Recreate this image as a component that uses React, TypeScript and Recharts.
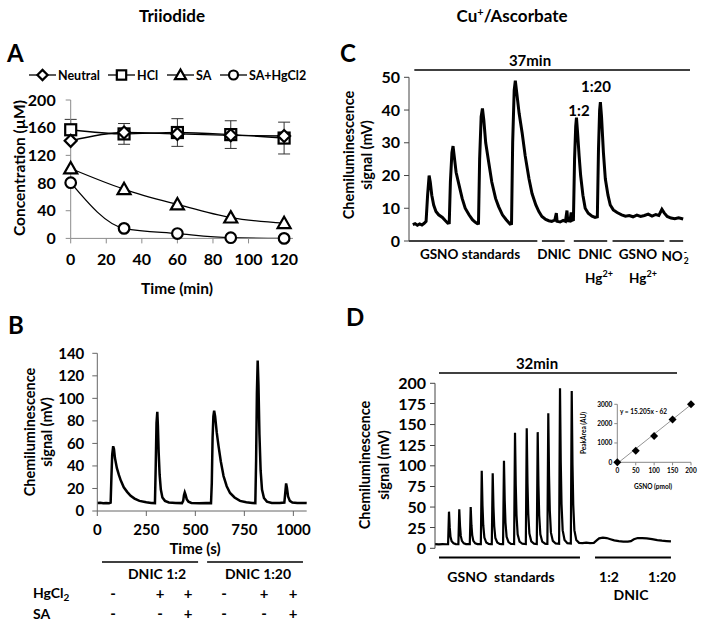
import React from 'react';
import { LineChart, Line, XAxis, YAxis, ErrorBar, ReferenceLine } from 'recharts';

const W = 704;
const H = 626;

// ---- Panel A: triiodide, concentration vs time
const timeA = [0, 30, 60, 90, 120];
const neutralA = [141, 153, 151, 149, 148];
const hclA = [157, 151, 153, 150, 145];
const hclErrA = [15, 15, 20, 20, 23];
const saA = [101, 71, 49, 30, 22];
const saHgA = [80.5, 14.5, 7, 1, 0];

// ---- Panel B: DNIC traces, time (s) vs mV
const traceB: [number, number][] = [
  [0, 7], [15, 7.3], [30, 6.8], [45, 7.1], [60, 6.9], [68, 7.4], [72, 30], [76, 50], [81, 57.5], [85, 55],
  [90, 47], [100, 38], [110, 32], [120, 27], [135, 21], [152, 17], [170, 13.5], [190, 11], [215, 9], [250, 7.8],
  [275, 7.2], [294, 7], [298, 40], [302, 78], [306, 88], [309, 76], [313, 52], [318, 32], [324, 19], [332, 12],
  [345, 9], [365, 7.6], [400, 7.1], [432, 7], [438, 9], [442, 14], [446, 16.5], [450, 14.5], [456, 10.5], [465, 8.2],
  [480, 7.2], [520, 6.9], [555, 7.1], [580, 7], [584, 25], [588, 65], [592, 84], [596, 89], [601, 84], [609, 70],
  [618, 58], [630, 44], [644, 31], [660, 22], [677, 16], [700, 12], [728, 9], [760, 7.8], [790, 7.2], [806, 7],
  [810, 45], [814, 105], [818, 133.5], [822, 112], [827, 68], [833, 36], [840, 19], [850, 11.5], [865, 8.3], [890, 7.2],
  [930, 7], [954, 7.5], [958, 15], [963, 24.5], [967, 21], [973, 13], [982, 9], [995, 7.6], [1020, 7.1], [1045, 7.2],
  [1068, 7],
];
const ticksB = [0, 250, 500, 750, 1000];
const signX = [113, 160, 188, 224, 264, 293];
const hgSigns = ['-', '+', '+', '-', '+', '+'];
const saSigns = ['-', '-', '+', '-', '-', '+'];

// ---- Panel C: Cu+/ascorbate trace, minutes vs mV
const traceC: [number, number][] = [
  [0.5, 5.0], [0.8, 5.3], [1.1, 4.8], [1.4, 5.2], [1.7, 4.9], [2.0, 5.4], [2.25, 6], [2.45, 14], [2.65, 20], [2.8, 18],
  [3.0, 14], [3.25, 11], [3.55, 9], [3.9, 8], [4.4, 7.2], [4.8, 6.2], [5.1, 5.5], [5.3, 5.6], [5.45, 18], [5.65, 27],
  [5.8, 29], [5.95, 26], [6.2, 21], [6.6, 17], [7.0, 13], [7.4, 10], [7.9, 8], [8.35, 6.5], [8.7, 5.8], [9.0, 5.3],
  [9.15, 5.4], [9.3, 25], [9.5, 38], [9.67, 40.5], [9.85, 37], [10.1, 30], [10.5, 24], [10.9, 18], [11.4, 13], [11.8, 10.5],
  [12.3, 8], [12.8, 6.5], [13.3, 5.2], [13.5, 5.3], [13.65, 30], [13.85, 46], [14.0, 49], [14.2, 45], [14.5, 39], [14.9, 33],
  [15.3, 26], [15.8, 19], [16.2, 14.5], [16.7, 11], [17.1, 9], [17.5, 7.5], [18.0, 6.6], [18.4, 6.2], [18.8, 6.0], [19.2, 6.4],
  [19.4, 8.5], [19.5, 6], [19.9, 5.8], [20.3, 6.3], [20.6, 6], [20.8, 9.3], [20.9, 6.2], [21.2, 6.1], [21.35, 8.7], [21.45, 6.3],
  [21.65, 6.5], [21.8, 25], [21.95, 35], [22.05, 37.7], [22.2, 33], [22.4, 26], [22.6, 20], [22.9, 14], [23.2, 10], [23.6, 8.5],
  [24.1, 7.6], [24.5, 7.2], [24.8, 7.4], [24.95, 28], [25.1, 40], [25.2, 42.4], [25.35, 38], [25.6, 27], [25.85, 19], [26.2, 14],
  [26.5, 11], [26.9, 9.5], [27.4, 8.7], [28.0, 8.0], [28.5, 7.6], [29.0, 7.8], [29.5, 7.4], [30.0, 7.9], [30.5, 7.5], [31.0, 7.8],
  [31.5, 8.2], [32.0, 7.6], [32.5, 8.1], [32.9, 7.8], [33.3, 9.7], [33.6, 8.6], [34.0, 7.5], [34.5, 7.0], [35.0, 6.8], [35.5, 7.1],
  [36.1, 6.7],
];
// x-axis pieces under the C trace (minutes)
const segmentsC: [number, number][] = [[0, 16.9], [17.5, 20.5], [21.7, 26.1], [26.8, 33.6], [34.3, 36.1]];

// ---- Panel D: GSNO standards + DNIC, minutes vs mV
const traceD: [number, number][] = [
  [0, 5], [0.5, 4.8], [1.0, 5.1], [1.5, 4.9], [1.73, 5], [1.85, 44.4], [1.95, 25], [2.05, 14], [2.2, 8.5], [2.45, 6], [2.75, 5.1], [3.0, 4.9],
  [3.09, 5], [3.21, 47.3], [3.31, 27], [3.41, 15], [3.56, 9], [3.81, 6], [4.1, 5.1], [4.4, 5],
  [4.6, 5], [4.72, 50], [4.82, 28], [4.92, 16], [5.07, 9], [5.32, 6], [5.62, 5.1], [5.9, 5],
  [6.06, 5], [6.18, 94], [6.28, 52], [6.38, 28], [6.53, 13], [6.78, 7], [7.1, 5.3], [7.35, 5.1],
  [7.51, 5], [7.63, 91], [7.73, 50], [7.83, 27], [7.98, 12.5], [8.23, 7], [8.55, 5.3], [8.8, 5.1],
  [9.0, 5], [9.12, 106], [9.22, 58], [9.32, 31], [9.47, 14], [9.72, 7.5], [10.05, 5.4], [10.3, 5.2],
  [10.46, 5.1], [10.58, 140], [10.68, 76], [10.78, 40], [10.93, 17], [11.18, 8], [11.55, 5.5], [11.8, 5.3],
  [12.01, 5.2], [12.13, 145.6], [12.23, 79], [12.33, 42], [12.48, 18], [12.73, 8.5], [13.1, 5.5], [13.3, 5.3],
  [13.46, 5.2], [13.58, 140.8], [13.68, 76], [13.78, 40], [13.93, 17], [14.18, 8], [14.55, 5.6], [14.7, 5.4],
  [14.86, 5.3], [14.98, 163.8], [15.08, 88], [15.18, 46], [15.33, 19], [15.58, 9], [15.95, 5.8], [16.25, 5.6],
  [16.41, 5.5], [16.53, 194], [16.63, 104], [16.73, 54], [16.88, 22], [17.13, 10], [17.5, 6.2], [17.8, 6],
  [17.96, 5.8], [18.08, 190.8], [18.18, 102], [18.28, 53], [18.43, 22], [18.68, 10], [19.05, 6.6], [19.5, 6.3],
  [20.0, 6.8], [20.5, 6.2], [21.0, 6.6], [21.3, 9], [21.7, 12], [22.2, 12.9], [22.7, 12.4], [23.2, 11], [23.7, 9.6],
  [24.3, 8.6], [24.9, 8.2], [25.5, 8], [25.9, 8.7], [26.3, 11], [26.8, 12.5], [27.4, 12.4], [28.0, 12], [28.7, 11.2],
  [29.4, 10], [30.0, 9.3], [30.6, 8.8], [31.2, 8.4],
];
const ticksDEven = [0, 50, 100, 150, 200];
const ticksDOdd = [25, 75, 125, 175];

// ---- Inset: calibration
const gsnoPmol = [0, 50, 100, 150, 200];
const peakArea = [0, 600, 1360, 2220, 3000];
const trendX = [4, 200];
const trendY = [0, 2979];

const toRows = (pts: [number, number][]) => pts.map(([t, v]) => ({ t, v }));

const rowsA = timeA.map((t, i) => ({
  t,
  neutral: neutralA[i],
  hcl: hclA[i],
  hclErr: hclErrA[i],
  sa: saA[i],
  hg: saHgA[i],
}));
const rowsD = toRows(traceD);
const rowsInset = gsnoPmol.map((t, i) => ({ t, v: peakArea[i] }));
const rowsTrend = trendX.map((t, i) => ({ t, v: trendY[i] }));

// chart covers the whole page; margins put the plot rect where we want it
function place(l: number, t: number, r: number, b: number, yw: number, xh: number) {
  return { left: l - yw, top: t, right: W - r, bottom: H - b - xh };
}

// D plot rectangle (also used for the in-between tick labels recharts keeps thinning out)
const D_LEFT = 435;
const D_TOP = 383.3;
const D_BOTTOM = 548.3;
const D_MAX = 200;
const yOfD = (v: number) => D_BOTTOM - (v / D_MAX) * (D_BOTTOM - D_TOP);

const full: React.CSSProperties = { position: 'absolute', left: 0, top: 0 };

function Txt({
  x, y, s = 15, rot = false, start = false, children,
}: { x: number; y: number; s?: number; rot?: boolean; start?: boolean; children: React.ReactNode }) {
  const tr = `translate(${start ? '0' : '-50%'}, -50%)${rot ? ' rotate(-90deg)' : ''}`;
  return (
    <div
      style={{
        position: 'absolute', left: x, top: y, fontSize: s, fontWeight: 700, lineHeight: 1,
        whiteSpace: 'nowrap', transform: tr,
      }}
    >
      {children}
    </div>
  );
}

type Kind = 'diamond' | 'square' | 'triangle' | 'circle';

function Mark({ kind, cx, cy, k = 1 }: { kind: Kind; cx: number; cy: number; k?: number }) {
  const p = { fill: '#fff', stroke: '#000', strokeWidth: 2.2 };
  if (kind === 'diamond') {
    const d = 6 * k;
    return <path d={`M${cx},${cy - d}L${cx + d},${cy}L${cx},${cy + d}L${cx - d},${cy}Z`} {...p} />;
  }
  if (kind === 'square') {
    const d = 5.5 * k;
    return <rect x={cx - d} y={cy - d} width={2 * d} height={2 * d} {...p} />;
  }
  if (kind === 'triangle') {
    const d = 6.5 * k;
    return <path d={`M${cx},${cy - d}L${cx + d},${cy + d * 0.75}L${cx - d},${cy + d * 0.75}Z`} {...p} />;
  }
  return <circle cx={cx} cy={cy} r={5.3 * k} {...p} />;
}

const dotOf = (kind: Kind) => (props: any) => {
  const { cx, cy, index } = props;
  if (cx == null || cy == null) return <g key={`n-${index}`} />;
  return <Mark key={`${kind}-${index}`} kind={kind} cx={cx} cy={cy} />;
};

const diamondDot = (props: any) => {
  const { cx, cy, index } = props;
  if (cx == null || cy == null) return <g key={`n-${index}`} />;
  return (
    <path key={`d-${index}`} d={`M${cx},${cy - 4}L${cx + 4},${cy}L${cx},${cy + 4}L${cx - 4},${cy}Z`} fill="#000" />
  );
};

const legendA: { kind: Kind; label: string; x: number }[] = [
  { kind: 'diamond', label: 'Neutral', x: 29 },
  { kind: 'square', label: 'HCl', x: 108 },
  { kind: 'triangle', label: 'SA', x: 167 },
  { kind: 'circle', label: 'SA+HgCl2', x: 220 },
];

const tickBold = (s: number) => ({ fontSize: s, fill: '#000', fontWeight: 700 });
const seg = (x1: number, x2: number, y: number) => [{ x: x1, y }, { x: x2, y }] as any;

export default function App() {
  return (
    <div
      style={{
        position: 'absolute', left: 0, top: 0, width: W, height: H, background: '#fff',
        fontFamily: 'Lato, "Open Sans", sans-serif', color: '#000', overflow: 'hidden',
      }}
    >
      {/* Panel A */}
      <div style={full}>
        <LineChart width={W} height={H} data={rowsA} margin={place(70.7, 100, 293, 238.4, 60, 40)}>
          <XAxis
            type="number" dataKey="t" domain={[0, 125]} ticks={[0, 20, 40, 60, 80, 100, 120]} interval={0}
            height={40} tickSize={5} tickMargin={10} stroke="#8c8c8c" tick={tickBold(16)}
          />
          <YAxis
            type="number" domain={[0, 200]} ticks={[0, 40, 80, 120, 160, 200]} interval={0}
            width={60} tickSize={5} tickMargin={10} stroke="#8c8c8c" tick={tickBold(16)}
          />
          <Line type="monotone" dataKey="hcl" stroke="#000" strokeWidth={1.3} dot={dotOf('square')} isAnimationActive={false}>
            <ErrorBar dataKey="hclErr" width={6} stroke="#333" strokeWidth={1} />
          </Line>
          <Line type="monotone" dataKey="neutral" stroke="#000" strokeWidth={1.3} dot={dotOf('diamond')} isAnimationActive={false} />
          <Line type="monotone" dataKey="sa" stroke="#000" strokeWidth={1.3} dot={dotOf('triangle')} isAnimationActive={false} />
          <Line type="monotone" dataKey="hg" stroke="#000" strokeWidth={1.3} dot={dotOf('circle')} isAnimationActive={false} />
        </LineChart>
      </div>

      {/* Panel B */}
      <div style={full}>
        <LineChart width={W} height={H} margin={place(97.3, 353.3, 306.7, 511, 60, 30)}>
          <XAxis
            type="number" dataKey="t" domain={[0, 1068]} ticks={ticksB} interval={0}
            height={30} tickSize={5} tickMargin={8} stroke="#666" tick={tickBold(15)}
          />
          <YAxis
            type="number" domain={[0, 140]} ticks={[0, 20, 40, 60, 80, 100, 120, 140]} interval={0}
            width={60} tickSize={5} tickMargin={8} stroke="#666" tick={tickBold(15)}
          />
          <Line data={toRows(traceB)} dataKey="v" type="linear" stroke="#000" strokeWidth={2.5} dot={false} isAnimationActive={false} />
          <ReferenceLine segment={seg(24, 514, -45.3)} stroke="#000" strokeWidth={1.5} ifOverflow="visible" />
          <ReferenceLine segment={seg(560, 1049, -45.3)} stroke="#000" strokeWidth={1.5} ifOverflow="visible" />
        </LineChart>
      </div>

      {/* Panel C */}
      <div style={full}>
        <LineChart width={W} height={H} margin={place(409, 77.3, 690, 241, 50, 0)}>
          <XAxis type="number" dataKey="t" domain={[0, 37]} hide />
          <YAxis
            type="number" domain={[0, 50]} ticks={[0, 10, 20, 30, 40, 50]} interval={0}
            width={50} tickSize={5} tickMargin={4} stroke="#444" tick={tickBold(16)}
          />
          <Line data={toRows(traceC)} dataKey="v" type="linear" stroke="#000" strokeWidth={3} dot={false} isAnimationActive={false} />
          {segmentsC.map(([a, b]) => (
            <ReferenceLine key={a} segment={seg(a, b, 0)} stroke="#000" strokeWidth={1.5} ifOverflow="visible" />
          ))}
          <ReferenceLine segment={seg(0.7, 37, 52.2)} stroke="#000" strokeWidth={1.5} ifOverflow="visible" />
        </LineChart>
      </div>

      {/* Panel D */}
      <div style={full}>
        <LineChart width={W} height={H} margin={place(D_LEFT, D_TOP, 677, D_BOTTOM, 50, 0)}>
          <XAxis type="number" dataKey="t" domain={[0, 32]} hide />
          <YAxis
            type="number" domain={[0, D_MAX]} ticks={ticksDEven} interval={0}
            width={50} tickSize={5} tickMargin={4} stroke="#444" tick={tickBold(16)}
          />
          <Line data={rowsD} dataKey="v" type="linear" stroke="#000" strokeWidth={2.2} dot={false} isAnimationActive={false} />
          <ReferenceLine segment={seg(0.53, 19.17, -11)} stroke="#000" strokeWidth={2} ifOverflow="visible" />
          <ReferenceLine segment={seg(21.16, 31.2, -11)} stroke="#000" strokeWidth={2} ifOverflow="visible" />
          <ReferenceLine segment={seg(0.53, 32, 212.5)} stroke="#000" strokeWidth={1.5} ifOverflow="visible" />
        </LineChart>
      </div>
      {ticksDOdd.map((v) => (
        <React.Fragment key={`odd${v}`}>
          <div
            style={{
              position: 'absolute', left: D_LEFT - 9, top: yOfD(v), transform: 'translate(-100%, -50%)',
              fontSize: 16, fontWeight: 700, lineHeight: 1, whiteSpace: 'nowrap',
            }}
          >
            {v}
          </div>
          <div style={{ position: 'absolute', left: D_LEFT - 5, top: yOfD(v) - 0.5, width: 5, height: 1, background: '#444' }} />
        </React.Fragment>
      ))}

      {/* Inset in D */}
      <div style={full}>
        <LineChart width={W} height={H} margin={place(617.3, 404.3, 691, 462.3, 30, 15)}>
          <XAxis
            type="number" dataKey="t" domain={[0, 200]} ticks={[0, 50, 100, 150, 200]} interval={0}
            height={15} tickSize={3} tickMargin={3} stroke="#888" tick={tickBold(6.5)}
          />
          <YAxis
            type="number" domain={[0, 3000]} ticks={[0, 1000, 2000, 3000]} interval={0}
            width={30} tickSize={3} tickMargin={2} stroke="#888" tick={tickBold(6.5)}
          />
          <Line data={rowsTrend} dataKey="v" type="linear" stroke="#777" strokeWidth={0.8} dot={false} isAnimationActive={false} />
          <Line data={rowsInset} dataKey="v" type="linear" stroke="none" dot={diamondDot} isAnimationActive={false} />
        </LineChart>
      </div>

      {/* titles and panel letters */}
      <Txt x={172} y={15} s={17}>Triiodide</Txt>
      <Txt x={512} y={15} s={17}>
        Cu<sup style={{ fontSize: 11 }}>+</sup>/Ascorbate
      </Txt>
      <Txt x={7} y={53} s={24} start>A</Txt>
      <Txt x={340} y={53} s={24} start>C</Txt>
      <Txt x={8} y={325} s={24} start>B</Txt>
      <Txt x={346} y={317} s={24} start>D</Txt>

      {/* A legend + axis titles */}
      {legendA.map((it) => (
        <div key={it.label} style={{ position: 'absolute', left: it.x, top: 67, height: 16, display: 'flex', alignItems: 'center' }}>
          <svg width={27} height={16}>
            <line x1={0} y1={8} x2={27} y2={8} stroke="#000" strokeWidth={1.3} />
            <Mark kind={it.kind} cx={13.5} cy={8} k={0.85} />
          </svg>
          <span style={{ fontSize: 12.5, fontWeight: 700, marginLeft: 2 }}>{it.label}</span>
        </div>
      ))}
      <Txt x={20} y={168} s={15.5} rot>Concentration (µM)</Txt>
      <Txt x={177} y={289} s={15.5}>Time (min)</Txt>

      {/* B labels */}
      <Txt x={30} y={432} s={14.5} rot>Chemiluminescence</Txt>
      <Txt x={47} y={432} s={14.5} rot>signal (mV)</Txt>
      <Txt x={195} y={548} s={15}>Time (s)</Txt>
      <Txt x={157} y={574} s={14}>DNIC 1:2</Txt>
      <Txt x={258} y={574} s={14}>DNIC 1:20</Txt>
      <Txt x={33} y={594} s={14} start>
        HgCl<sub style={{ fontSize: 10 }}>2</sub>
      </Txt>
      <Txt x={33} y={614} s={14} start>SA</Txt>
      {hgSigns.map((c, i) => (
        <Txt key={`h${i}`} x={signX[i]} y={593} s={15}>{c}</Txt>
      ))}
      {saSigns.map((c, i) => (
        <Txt key={`s${i}`} x={signX[i]} y={613} s={15}>{c}</Txt>
      ))}

      {/* C labels */}
      <Txt x={349} y={155} s={14.5} rot>Chemiluminescence</Txt>
      <Txt x={367} y={155} s={14.5} rot>signal (mV)</Txt>
      <Txt x={530} y={60} s={15}>37min</Txt>
      <Txt x={579} y={110} s={15}>1:2</Txt>
      <Txt x={596} y={86} s={15}>1:20</Txt>
      <Txt x={470} y={255} s={13.5}>GSNO standards</Txt>
      <Txt x={554} y={255} s={13.5}>DNIC</Txt>
      <Txt x={595} y={255} s={13.5}>DNIC</Txt>
      <Txt x={599} y={277} s={13.5}>
        Hg<sup style={{ fontSize: 9 }}>2+</sup>
      </Txt>
      <Txt x={638} y={255} s={13.5}>GSNO</Txt>
      <Txt x={643} y={277} s={13.5}>
        Hg<sup style={{ fontSize: 9 }}>2+</sup>
      </Txt>
      <Txt x={675} y={256} s={13.5}>
        <span style={{ display: 'inline-flex', alignItems: 'center' }}>
          NO
          <span style={{ display: 'inline-flex', flexDirection: 'column', fontSize: 8.5, lineHeight: 1, marginLeft: 1 }}>
            <span>-</span>
            <span>2</span>
          </span>
        </span>
      </Txt>

      {/* D labels */}
      <Txt x={365} y={465} s={14.5} rot>Chemiluminescence</Txt>
      <Txt x={384} y={465} s={14.5} rot>signal (mV)</Txt>
      <Txt x={537} y={363} s={15}>32min</Txt>
      <Txt x={501} y={577} s={14}>GSNO&nbsp;&nbsp;standards</Txt>
      <Txt x={609} y={577} s={14}>1:2</Txt>
      <Txt x={662} y={577} s={14}>1:20</Txt>
      <Txt x={631} y={595} s={14}>DNIC</Txt>

      {/* inset labels */}
      <Txt x={584} y={433} s={6.5} rot>PeakArea (AU)</Txt>
      <Txt x={653} y={487} s={6.5}>GSNO (pmol)</Txt>
      <Txt x={620} y={412} s={6.5} start>y = 15.205x - 62</Txt>
    </div>
  );
}
